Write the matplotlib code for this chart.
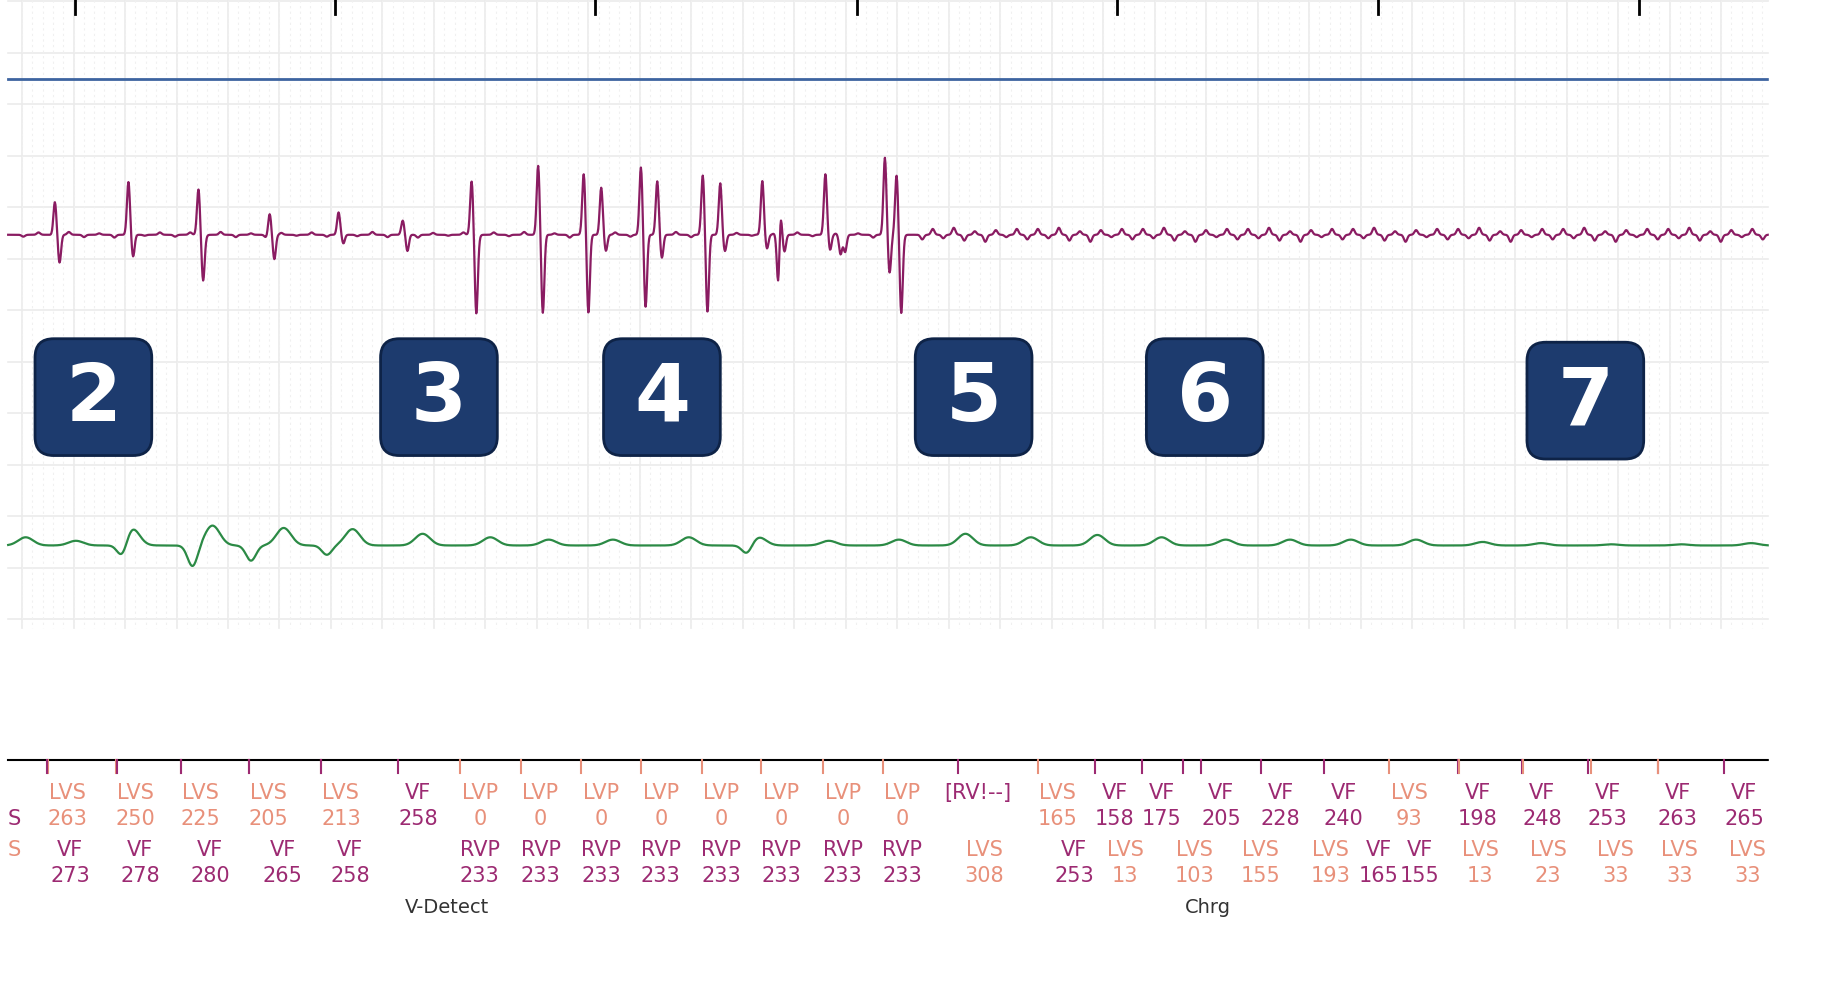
"""
Recreation of an ICD episode strip: EGM traces, numbered markers and marker channel.
"""

import numpy as np
import matplotlib.pyplot as plt
from matplotlib.patches import FancyBboxPatch

# ---- data (x in strip units, y in strip units, top = 0) ----
top_ticks = [64, 287, 510, 734, 957, 1180, 1404]

# purple EGM: spike positions, peak (up) levels and trough (down) levels
egm_x = [47, 110, 170, 231, 290, 345, 404, 461, 500, 515, 549, 563, 602, 617,
         653, 663, 668, 707, 716, 720, 758, 768]
egm_up = [172, 157, 162, 183, 182, 190, 155, 140, 150, 160, 143, 155, 150, 155,
          155, 200, 155, 150, 200, 150, 135, 150]
egm_down = [225, 220, 240, 222, 210, 215, 268, 268, 268, 215, 265, 220, 268, 215,
            215, 268, 215, 215, 268, 215, 235, 268]
egm_noise = [4, -5, 3, -6, 5, -3, 6, -4, 2, -5]

# green far-field: hump positions and levels
ff_x = [22, 65, 113, 182, 243, 302, 362, 420, 470, 525, 590, 650, 710, 770, 827,
        883, 940, 995, 1050, 1105, 1157, 1213, 1270, 1320, 1380, 1440, 1500]
ff_y = [460, 463, 452, 450, 452, 453, 457, 460, 462, 462, 460, 460, 463, 462, 457,
        460, 458, 460, 462, 462, 462, 462, 464, 465, 466, 466, 465]
ff_dip_x = [105, 165, 215, 280, 640]
ff_dip_y = [480, 485, 480, 475, 475]

badges = ["2", "3", "4", "5", "6", "7"]
badge_x = [80, 376, 567, 834, 1032, 1358]
badge_y = [340, 340, 340, 340, 340, 343]

ORANGE = "#e8907a"
MAGENTA = "#9c2a72"
row1 = [(12, "", "S", MAGENTA), (58, "LVS", "263", ORANGE), (116, "LVS", "250", ORANGE),
        (172, "LVS", "225", ORANGE), (230, "LVS", "205", ORANGE), (292, "LVS", "213", ORANGE),
        (358, "VF", "258", MAGENTA)] + \
       [(x, "LVP", "0", ORANGE) for x in [411, 463, 515, 566, 618, 669, 722, 773]] + \
       [(838, "[RV!--]", "", MAGENTA), (906, "LVS", "165", ORANGE), (955, "VF", "158", MAGENTA),
        (995, "VF", "175", MAGENTA), (1046, "VF", "205", MAGENTA), (1097, "VF", "228", MAGENTA),
        (1151, "VF", "240", MAGENTA), (1207, "LVS", "93", ORANGE), (1266, "VF", "198", MAGENTA),
        (1321, "VF", "248", MAGENTA), (1377, "VF", "253", MAGENTA), (1437, "VF", "263", MAGENTA),
        (1494, "VF", "265", MAGENTA)]
row2 = [(12, "S", "", ORANGE), (60, "VF", "273", MAGENTA), (120, "VF", "278", MAGENTA),
        (180, "VF", "280", MAGENTA), (242, "VF", "265", MAGENTA), (300, "VF", "258", MAGENTA)] + \
       [(x, "RVP", "233", MAGENTA) for x in [411, 463, 515, 566, 618, 669, 722, 773]] + \
       [(843, "LVS", "308", ORANGE), (920, "VF", "253", MAGENTA), (964, "LVS", "13", ORANGE),
        (1023, "LVS", "103", ORANGE), (1080, "LVS", "155", ORANGE), (1140, "LVS", "193", ORANGE),
        (1181, "VF", "165", MAGENTA), (1216, "VF", "155", MAGENTA), (1268, "LVS", "13", ORANGE),
        (1326, "LVS", "23", ORANGE), (1384, "LVS", "33", ORANGE), (1439, "LVS", "33", ORANGE),
        (1497, "LVS", "33", ORANGE)]
ticks_extra = [(40, MAGENTA), (100, MAGENTA), (155, MAGENTA), (213, MAGENTA), (275, MAGENTA),
               (1013, MAGENTA), (1250, ORANGE), (1305, ORANGE), (1363, ORANGE), (1420, ORANGE)]
phase_labels = [(383, "V-Detect"), (1035, "Chrg")]

X0, X1 = 7, 1515

fig = plt.figure(figsize=(18.27, 10.08), dpi=100)
ax = fig.add_axes([0, 0, 1, 1])
ax.set_xlim(0, 1565)
ax.set_ylim(863, 0)
ax.axis("off")

# grid
major = 44.1
for gx in np.arange(18.9, X1, major):
    ax.plot([gx, gx], [0, 538], color="#ebebeb", lw=1.2, zorder=0)
for gy in np.arange(0.9, 540, major):
    ax.plot([X0, X1], [gy, gy], color="#ebebeb", lw=1.2, zorder=0)
for gx in np.arange(18.9, X1, major / 5):
    ax.plot([gx, gx], [0, 538], color="#f0f0f0", lw=0.8, ls=(0, (2, 3)), zorder=0)
for gx in top_ticks:
    ax.plot([gx, gx], [0, 12], color="black", lw=2)

ax.plot([X0, X1], [68, 68], color="#3d64a0", lw=2)

# purple EGM
t = np.arange(X0, X1, 0.5)
sig = np.full_like(t, 201.0)
for x, up, dn in zip(egm_x, egm_up, egm_down):
    sig += (up - 201) * np.exp(-((t - x) / 1.8) ** 2)
    sig += (dn - 201) * np.exp(-((t - x - 4) / 1.8) ** 2)
for k, x in enumerate(np.arange(790, X1, 9.0)):
    sig += egm_noise[k % len(egm_noise)] * np.exp(-((t - x) / 2.0) ** 2)
for k, x in enumerate(np.arange(20, 780, 13.0)):
    sig += 0.4 * egm_noise[k % len(egm_noise)] * np.exp(-((t - x) / 2.0) ** 2)
ax.plot(t, sig, color="#8a1c62", lw=1.6)

# green far-field
ff = np.full_like(t, 467.0)
for x, y in zip(ff_x, ff_y):
    ff += (y - 467) * np.exp(-((t - x) / 9) ** 2)
for x, y in zip(ff_dip_x, ff_dip_y):
    ff += (y - 467) * np.exp(-((t - x) / 6) ** 2)
ax.plot(t, ff, color="#2b8a45", lw=1.6)

# numbered badges
for label, bx, by in zip(badges, badge_x, badge_y):
    ax.add_patch(FancyBboxPatch((bx - 45, by - 45), 90, 90,
                                boxstyle="round,pad=5,rounding_size=16",
                                fc="#1d3b6e", ec="#0e2347", lw=2, zorder=3))
    ax.text(bx, by + 2, label, color="white", fontsize=58, fontweight="bold",
            ha="center", va="center", zorder=4)

# marker channel
ax.plot([X0, X1], [651, 651], color="black", lw=1.5)
fs = 15
for x, lab, val, col in row1:
    if lab:
        ax.plot([x - 17, x - 17], [651, 662], color=col, lw=1.5)
    ax.text(x, 679, lab, color=col, fontsize=fs, ha="center", va="center")
    ax.text(x, 701, val, color=col, fontsize=fs, ha="center", va="center")
for x, lab, val, col in row2:
    ax.text(x, 728, lab, color=col, fontsize=fs, ha="center", va="center")
    ax.text(x, 750, val, color=col, fontsize=fs, ha="center", va="center")
for x, col in ticks_extra:
    ax.plot([x, x], [651, 662], color=col, lw=1.5)
for x, lab in phase_labels:
    ax.text(x, 777, lab, color="#333333", fontsize=14, ha="center", va="center")

# white mask beyond right edge of strip
ax.axvspan(X1, 1565, color="white", zorder=10)

fig.savefig("out.png", dpi=100)
